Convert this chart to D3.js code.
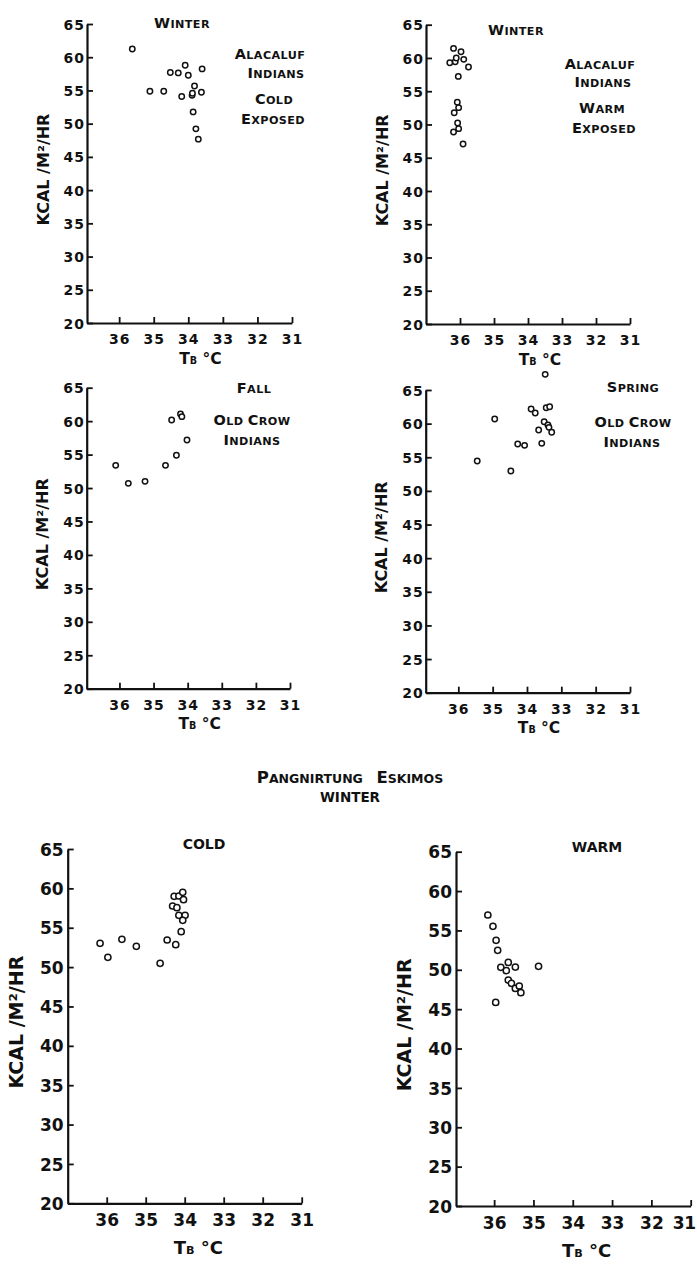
<!DOCTYPE html>
<html><head><meta charset="utf-8">
<script src="https://cdn.jsdelivr.net/npm/d3@7"></script>
<style>
html,body{margin:0;padding:0;background:#fff;}
svg{display:block;font-family:"DejaVu Sans",sans-serif;font-weight:bold;}
</style></head>
<body>
<svg id="chart" width="697" height="1269"></svg>
<script>
// ---- data ----
const xTicks = [36, 35, 34, 33, 32, 31];
const yTicks = [20, 25, 30, 35, 40, 45, 50, 55, 60, 65];
const yLabel = "KCAL /M²/HR";

const alacalufCold = [[35.62,61.24],[35.11,54.88],[34.71,54.88],[34.52,57.69],[34.29,57.64],[34.09,58.79],[34.00,57.28],[33.60,58.24],[34.19,54.08],[33.89,54.28],[33.88,54.58],[33.82,55.68],[33.62,54.73],[33.86,51.77],[33.78,49.22],[33.71,47.67]];
const alacalufWarm = [[36.19,61.44],[35.97,60.94],[36.30,59.29],[36.14,59.44],[36.11,59.99],[35.89,59.79],[35.75,58.64],[36.05,57.23],[36.08,53.33],[36.04,52.53],[36.17,51.77],[36.07,50.22],[36.04,49.37],[36.19,48.87],[35.91,47.06]];
const oldCrowFall = [[36.11,53.39],[35.74,50.70],[35.25,51.00],[34.65,53.39],[34.33,54.89],[34.47,60.17],[34.21,61.06],[34.17,60.67],[34.02,57.18]];
const oldCrowSpring = [[33.47,67.33],[33.88,62.18],[33.76,61.58],[33.44,62.37],[33.34,62.52],[34.94,60.69],[33.50,60.29],[33.39,59.80],[33.36,59.45],[33.28,58.71],[33.66,59.05],[34.27,56.97],[34.07,56.77],[33.57,57.07],[35.45,54.45],[34.47,52.96]];
const eskimoCold = [[36.17,53.02],[35.97,51.24],[35.61,53.53],[35.24,52.64],[34.63,50.48],[34.45,53.44],[34.23,52.85],[34.09,54.50],[34.31,57.76],[34.20,57.55],[34.27,58.99],[34.15,59.03],[34.05,59.50],[34.03,58.56],[34.15,56.57],[33.99,56.57],[34.05,55.94]];
const eskimoWarm = [[36.16,56.96],[36.03,55.52],[35.95,53.74],[35.91,52.47],[35.83,50.31],[35.69,49.89],[35.64,50.94],[35.46,50.35],[35.64,48.70],[35.56,48.28],[35.46,47.64],[35.36,47.94],[35.32,47.09],[35.96,45.86],[34.87,50.44]];

const panelTexts = [
  ["WINTER", "ALACALUF", "INDIANS", "COLD", "EXPOSED"],
  ["WINTER", "ALACALUF", "INDIANS", "WARM", "EXPOSED"],
  ["FALL", "OLD CROW", "INDIANS"],
  ["SPRING", "OLD CROW", "INDIANS"],
  ["COLD"],
  ["WARM"]
];
const mainTitle = ["PANGNIRTUNG", "ESKIMOS"];
const subTitle = "WINTER";

// ---- layout ----
const panels = [
  {data: alacalufCold, x0: 36.93, left: 87, right: 292, top: 24, bottom: 323, big: false,
   textPos: [[182,22],[270,53],[276,72],[274,98],[273,118]]},
  {data: alacalufWarm, x0: 37.0, left: 426, right: 630, top: 24.7, bottom: 324, big: false,
   textPos: [[516,29],[600,63],[603,81],[602,107],[604,127]]},
  {data: oldCrowFall, x0: 36.96, left: 86.7, right: 290, top: 387.7, bottom: 688.7, big: false,
   textPos: [[254,387],[252,419],[252,439]]},
  {data: oldCrowSpring, x0: 36.95, left: 425.7, right: 630, top: 390, bottom: 692.7, big: false,
   textPos: [[633,386],[633,421],[632,441]]},
  {data: eskimoCold, x0: 37.0, left: 67.7, right: 301.7, top: 849, bottom: 1203.3, big: true,
   textPos: [[204,844]], plainCaps: true},
  {data: eskimoWarm, x0: 36.97, left: 456, right: 690.7, top: 851.7, bottom: 1206, big: true,
   textPos: [[597,847]], plainCaps: true}
];

const ink = "#111";
const svg = d3.select("#chart");

function smallCaps(sel, str, bigSize, smallSize) {
  const words = str.split(" ");
  words.forEach((w, wi) => {
    if (wi > 0) sel.append("tspan").attr("font-size", smallSize).text(" ");
    sel.append("tspan").attr("font-size", bigSize).text(w[0]);
    if (w.length > 1) sel.append("tspan").attr("font-size", smallSize).text(w.slice(1));
  });
}

panels.forEach((p, i) => {
  const x = d3.scaleLinear().domain([p.x0, 31]).range([p.left, p.right]);
  const y = d3.scaleLinear().domain([20, 65]).range([p.bottom, p.top]);
  const tickFont = p.big ? 17 : 14;
  const g = svg.append("g");

  const yAxis = d3.axisLeft(y).tickValues(yTicks).tickSizeInner(-6).tickSizeOuter(0)
    .tickPadding(p.big ? 4 : 2).tickFormat(d3.format("d"));
  const ya = g.append("g").attr("transform", `translate(${p.left},0)`).call(yAxis);
  const xAxis = d3.axisBottom(x).tickValues(xTicks).tickSizeInner(-6).tickSizeOuter(0)
    .tickPadding(11).tickFormat(d3.format("d"));
  const xa = g.append("g").attr("transform", `translate(0,${p.bottom})`).call(xAxis);

  [ya, xa].forEach(a => {
    a.select(".domain").attr("stroke", ink).attr("stroke-width", 2.2);
    a.selectAll(".tick line").attr("stroke", ink).attr("stroke-width", 1.8);
    a.selectAll(".tick text").attr("fill", ink).attr("font-size", tickFont)
      .attr("font-family", "DejaVu Sans").attr("font-weight", "bold")
      .attr("letter-spacing", p.big ? 0 : 1);
  });
  ya.selectAll(".tick text").attr("dy", "0.36em");
  // keep the last x tick label inside the page
  const lastX = p.right;
  if (lastX + 12 > 697) {
    xa.selectAll(".tick text").filter(d => d === 31)
      .attr("text-anchor", "end").attr("x", 697 - 2 - lastX).attr("letter-spacing", -0.5);
  }

  // y label
  const ylx = p.left - (p.big ? 52 : 44);
  const yly = (p.top + p.bottom) / 2 - 4;
  g.append("text").attr("transform", `translate(${ylx},${yly}) rotate(-90)`)
    .attr("text-anchor", "middle").attr("dy", "0.36em").attr("fill", ink)
    .attr("font-size", p.big ? 19 : 16).text(yLabel);

  // x label
  const xl = g.append("text").attr("x", x(33.65))
    .attr("y", p.bottom + (p.big ? 45 : 35)).attr("dy", "0.36em")
    .attr("text-anchor", "middle").attr("fill", ink);
  const xls = p.big ? 18 : 15.5;
  xl.append("tspan").attr("font-size", xls).text("T");
  xl.append("tspan").attr("font-size", xls * 0.62).text("B");
  xl.append("tspan").attr("font-size", xls).text(" °C");

  // points
  g.append("g").selectAll("circle").data(p.data).join("circle")
    .attr("cx", d => x(d[0])).attr("cy", d => y(d[1]))
    .attr("r", p.big ? 3.1 : 2.7)
    .attr("fill", "#fff").attr("stroke", ink).attr("stroke-width", 1.5);

  // annotations
  panelTexts[i].forEach((t, k) => {
    const [tx, ty] = p.textPos[k];
    const te = g.append("text").attr("x", tx).attr("y", ty).attr("dy", "0.36em")
      .attr("text-anchor", "middle").attr("fill", ink);
    if (p.plainCaps) {
      te.attr("font-size", 14).text(t);
    } else {
      te.attr("letter-spacing", 0.4);
      smallCaps(te, t, 14.5, 11.2);
    }
  });
});

// main title
const tt = svg.append("text").attr("x", 350).attr("y", 777).attr("dy", "0.36em")
  .attr("text-anchor", "middle").attr("fill", ink);
mainTitle.forEach((w, wi) => {
  if (wi > 0) tt.append("tspan").attr("font-size", 13).text("\u00a0\u00a0\u00a0");
  tt.append("tspan").attr("font-size", 16.5).text(w[0]);
  tt.append("tspan").attr("font-size", 12.5).text(w.slice(1));
});
svg.append("text").attr("x", 350).attr("y", 797).attr("dy", "0.36em")
  .attr("text-anchor", "middle").attr("fill", ink).attr("font-size", 13.5).text(subTitle);
</script>
</body></html>
